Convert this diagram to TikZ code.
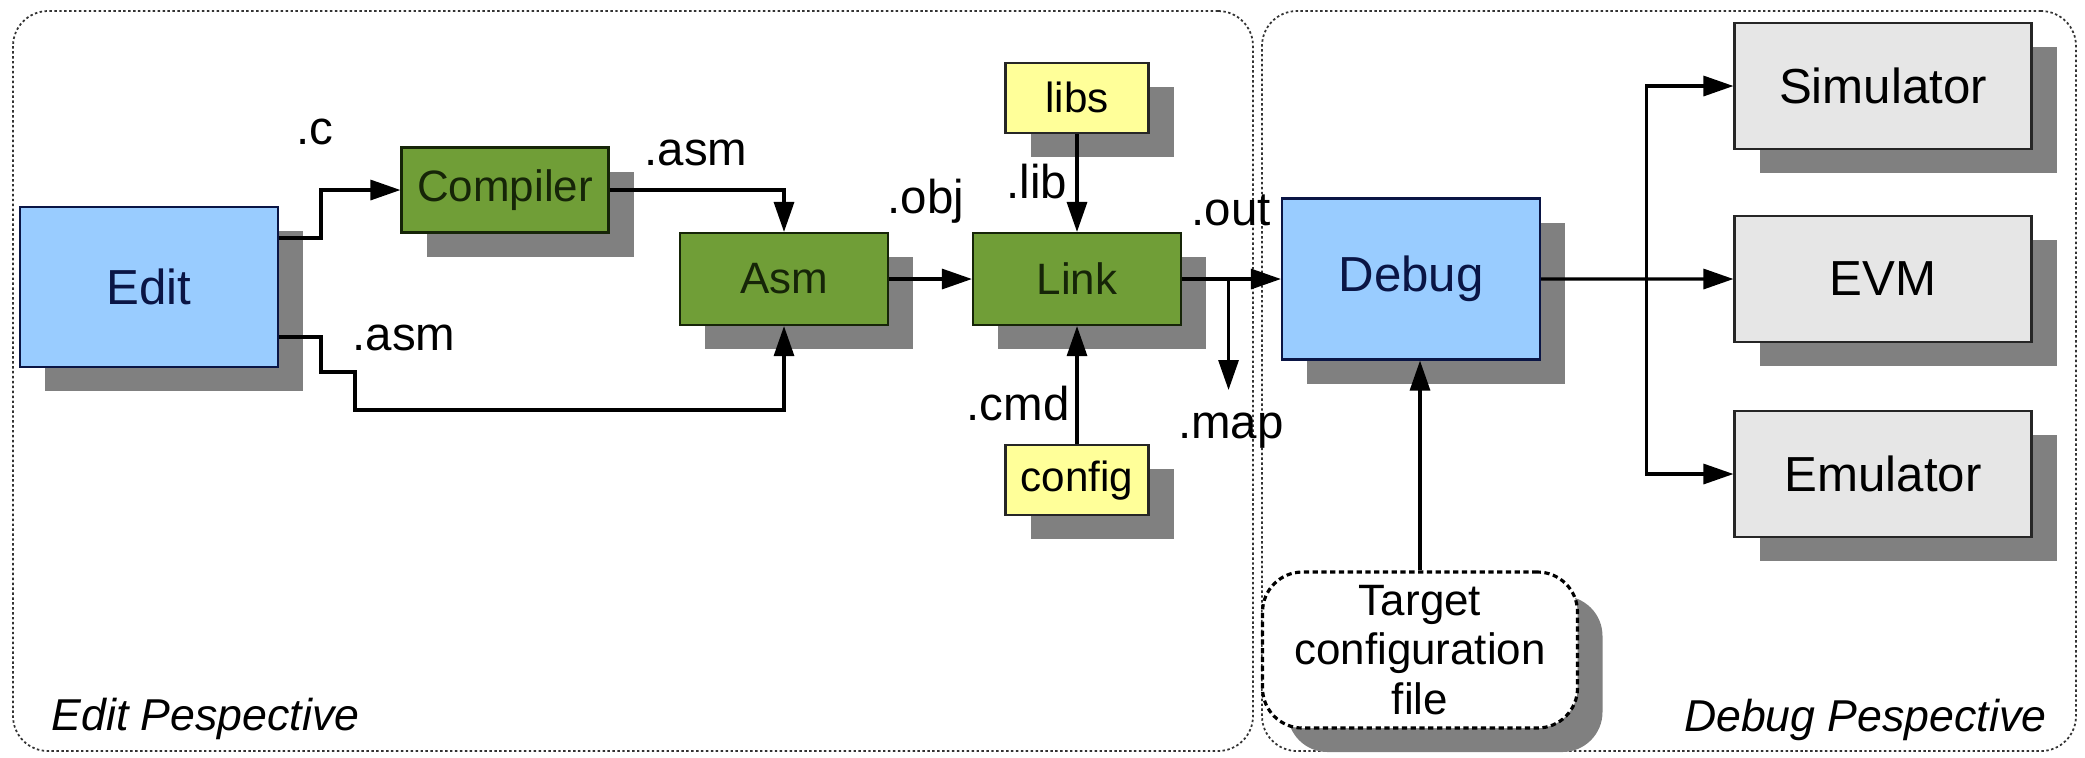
\documentclass[tikz,border=0pt]{standalone}
\usepackage{fontspec}
\setmainfont{Liberation Sans}
\usetikzlibrary{positioning,calc,shadows,arrows.meta}
\definecolor{editblue}{HTML}{99CCFF}
\definecolor{toolgreen}{HTML}{709E37}
\definecolor{libyellow}{HTML}{FFFF99}
\definecolor{devgray}{HTML}{E6E6E6}
\definecolor{shadowgray}{HTML}{808080}
\definecolor{navy}{HTML}{0A1545}
\definecolor{darkolive}{HTML}{162508}
\newcommand{\fs}[1]{\fontsize{#1}{#1}\selectfont}

\begin{document}
\begin{tikzpicture}[x=0.1mm, y=-0.1mm, every node/.style = {align=center, inner sep=0pt},
    shadowed/.style = {drop shadow={shadow xshift=2.5mm, shadow yshift=-2.4mm, fill=shadowgray, opacity=1}},
    viewbox/.style = {shadowed, draw=navy, line width=0.6pt, fill=editblue, text=navy, minimum width=25.8mm, minimum height=16mm, font=\fs{14pt}},
    toolbox/.style = {shadowed, draw=darkolive, line width=0.6pt, fill=toolgreen, text=darkolive, minimum width=20.8mm, minimum height=9.2mm, font=\fs{12.5pt}},
    srcbox/.style = {shadowed, draw=black!85, line width=0.6pt, fill=libyellow, minimum width=14.3mm, minimum height=7mm, font=\fs{12pt}},
    devbox/.style = {shadowed, draw=black!85, line width=0.6pt, fill=devgray, minimum width=29.7mm, minimum height=12.6mm, font=\fs{14pt}},
    cfgfile/.style = {shadowed, draw=black, fill=white, line width=0.9pt, dash pattern=on 1.5pt off 1pt, rounded corners=4mm, minimum width=31.5mm, minimum height=15.6mm, font={\fontsize{12.5pt}{14.2pt}\selectfont}},
    persp/.style = {draw=black!80, line width=0.5pt, dash pattern=on 0.7pt off 0.7pt, rounded corners=3.5mm},
    perspname/.style = {font={\fs{12.7pt}\itshape}},
    lbl/.style = {font=\fs{13.5pt}, anchor=base},
    conn/.style = {line width=0.9pt, -{Triangle[length=3mm, width=2mm]}},
    wire/.style = {line width=0.9pt}]
  \useasboundingbox (0,0) rectangle (2085,757);

  \node[persp, minimum width=124mm, minimum height=74mm] (editarea) at (633,381) {};
  \node[persp, minimum width=81.4mm, minimum height=74mm] (debugarea) at (1669,381) {};
  \node[perspname, anchor=base west] (editname) at (51,730) {Edit Pespective};
  \node[perspname, anchor=base east] (debugname) at (2047,731) {Debug Pespective};

  \node[viewbox] (edit) at (149,287) {Edit};
  \node[toolbox, minimum width=20.7mm, minimum height=8.5mm] (compiler) at (505,190) {Compiler};
  \node[toolbox] (asm) at (784,279) {Asm};
  \node[toolbox] (link) at (1077,279) {Link};
  \node[srcbox, above=9.8mm of link] (libs) {libs};
  \node[srcbox, below=11.8mm of link] (config) {config};
  \node[viewbox, minimum height=16.1mm] (debug) at (1411,279) {Debug};
  \node[devbox] (sim) at (1883,86) {Simulator};
  \node[devbox] (evm) at (1883,279) {EVM};
  \node[devbox] (emu) at (1883,474) {Emulator};
  \node[cfgfile] (tcf) at (1420,650) {Target\\configuration\\file};

  \draw[conn] ($(edit.east)+(0,-49)$) -- ++(42,0) |- (compiler.west);
  \draw[conn] (compiler.east) -| (asm.north);
  \draw[conn] ($(edit.east)+(0,50)$) -- ++(42,0) -- ++(0,35) -- ++(34,0) -- ++(0,38) -| (asm.south);
  \draw[conn] (asm.east) -- (link.west);
  \draw[conn] (libs.south) -- (link.north);
  \draw[conn] (config.north) -- (link.south);
  \draw[conn] (link.east) -- (debug.west);
  \coordinate (mapfork) at ($(link.east)!0.47!(debug.west)$);
  \coordinate (mapend) at ($(mapfork)+(0,111)$);
  \draw[conn] (mapfork) -- (mapend);
  \draw[conn] (tcf.north) -- (tcf.north |- debug.south);
  \coordinate (fork) at ($(debug.east)!0.55!(evm.west)$);
  \draw[wire] (debug.east) -- (fork);
  \draw[conn] (fork) -- (evm.west);
  \draw[conn] (fork) |- (sim.west);
  \draw[conn] (fork) |- (emu.west);

  \node[lbl] (lc) at (315,144) {.c};
  \node[lbl] (lasmtop) at (696,165) {.asm};
  \node[lbl] (lobj) at (926,213) {.obj};
  \node[lbl] (llib) at (1037,198) {.lib};
  \node[lbl] (lout) at (1231,225) {.out};
  \node[lbl] (lcmd) at (1018,420) {.cmd};
  \node[lbl] (lmap) at (1231,438) {.map};
  \node[lbl] (lasmlow) at (404,350) {.asm};
\end{tikzpicture}
\end{document}
